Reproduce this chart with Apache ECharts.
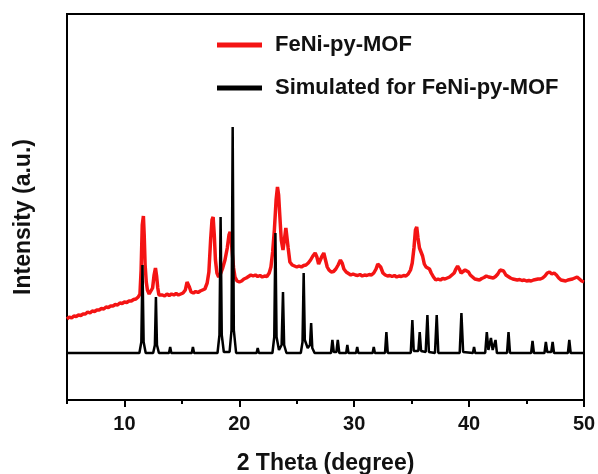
<!DOCTYPE html>
<html>
<head>
<meta charset="utf-8">
<script src="https://cdn.jsdelivr.net/npm/echarts@6/dist/echarts.min.js"></script>
<style>
  html, body { margin: 0; padding: 0; background: #fff; }
  #xrd { width: 598px; height: 474px; }
</style>
</head>
<body>
<div id="xrd"></div>
<script>
// ---------- XRD 图 ----------
var xrdDom = document.getElementById('xrd')
var xrdChart = echarts.init(xrdDom)

var seriesNames = ['FeNi-py-MOF', 'Simulated for FeNi-py-MOF'];
var xTickLabels = [10, 20, 30, 40, 50];
var xMinorTicks = [5, 15, 25, 35, 45];

// 实测 (2θ, 强度)
var measured = [
    [5.0, 81], [5.2, 83], [5.4, 82], [5.6, 84], [5.8, 83.5], [6.0, 85], [6.2, 84.5], [6.4, 86],
    [6.6, 86], [6.8, 88], [7.0, 87], [7.2, 89], [7.4, 88.5], [7.6, 90], [7.8, 90], [8.0, 91.5],
    [8.2, 91], [8.4, 93], [8.6, 92.5], [8.8, 94], [9.0, 94], [9.2, 95.5], [9.4, 95], [9.6, 97],
    [9.8, 96.5], [10.0, 98], [10.2, 97.5], [10.4, 99], [10.6, 99], [10.8, 100.5], [11.0, 101],
    [11.2, 103], [11.35, 106], [11.45, 130], [11.55, 175], [11.65, 184], [11.72, 165], [11.8, 135],
    [11.9, 118], [12.0, 110], [12.15, 106], [12.3, 107], [12.45, 112], [12.58, 125], [12.7, 132],
    [12.8, 124], [12.9, 112], [13.0, 105], [13.15, 103], [13.3, 105], [13.5, 104], [13.7, 106],
    [13.9, 104.5], [14.1, 106], [14.3, 105], [14.5, 106.5], [14.7, 105], [14.9, 106], [15.1, 107],
    [15.3, 110], [15.45, 118], [15.53, 120], [15.65, 113], [15.8, 108], [16.0, 107], [16.2, 108.5],
    [16.4, 107.5], [16.6, 109], [16.8, 110], [17.0, 111], [17.2, 117], [17.35, 128], [17.5, 160],
    [17.62, 180], [17.72, 183], [17.82, 165], [17.92, 140], [18.05, 127], [18.2, 123], [18.35, 126],
    [18.55, 132], [18.75, 140], [18.95, 152], [19.1, 165], [19.2, 168], [19.3, 160], [19.4, 145],
    [19.5, 132], [19.62, 123], [19.8, 119], [20.0, 118], [20.2, 119], [20.4, 121], [20.6, 122],
    [20.8, 123.5], [21.0, 125], [21.2, 124], [21.4, 125], [21.6, 123.5], [21.8, 124.5], [22.0, 123],
    [22.2, 124], [22.4, 123.5], [22.6, 127], [22.75, 133], [22.9, 148], [23.05, 170], [23.2, 200],
    [23.32, 213], [23.42, 205], [23.52, 185], [23.65, 160], [23.8, 150], [23.92, 160], [24.05, 172],
    [24.12, 170], [24.25, 152], [24.4, 138], [24.6, 135], [24.8, 134], [25.0, 133], [25.2, 134],
    [25.4, 133], [25.6, 134.5], [25.8, 135], [26.0, 137], [26.2, 140], [26.4, 144], [26.6, 147],
    [26.75, 143], [26.9, 136], [27.05, 138], [27.2, 144], [27.35, 147], [27.5, 140], [27.65, 133],
    [27.8, 130], [28.0, 128], [28.2, 128.5], [28.4, 131], [28.6, 135], [28.8, 140], [28.95, 137],
    [29.1, 131], [29.3, 128], [29.5, 126.5], [29.7, 125], [29.9, 126], [30.1, 125], [30.3, 124.5],
    [30.5, 125.5], [30.7, 124], [30.9, 125], [31.1, 124.5], [31.3, 125.5], [31.5, 125], [31.7, 127],
    [31.9, 131], [32.05, 136], [32.15, 137], [32.3, 133], [32.5, 127], [32.7, 125], [32.9, 124],
    [33.1, 124.5], [33.3, 123.5], [33.5, 124.5], [33.7, 123], [33.9, 124], [34.1, 123.5], [34.3, 124.5],
    [34.5, 124], [34.7, 126], [34.9, 130], [35.05, 137], [35.2, 152], [35.33, 170], [35.44, 173],
    [35.55, 162], [35.68, 152], [35.8, 150], [35.95, 144], [36.1, 136], [36.25, 133], [36.4, 132],
    [36.55, 131], [36.7, 127], [36.9, 123], [37.1, 120], [37.3, 121], [37.5, 120], [37.7, 121.5],
    [37.9, 121], [38.1, 122], [38.3, 123], [38.5, 125], [38.7, 127], [38.85, 131], [39.0, 134],
    [39.15, 131], [39.3, 127], [39.45, 126], [39.65, 130], [39.8, 131], [39.95, 128], [40.1, 125],
    [40.3, 123], [40.5, 121], [40.7, 120.5], [40.9, 120], [41.1, 121.5], [41.3, 122.5], [41.5, 124],
    [41.7, 123], [41.9, 122.5], [42.1, 122], [42.3, 123.5], [42.5, 126], [42.7, 130], [42.85, 132],
    [43.0, 129], [43.2, 125], [43.4, 123.5], [43.6, 122], [43.8, 121], [44.0, 120.5], [44.2, 120],
    [44.4, 120.5], [44.6, 119.5], [44.8, 120], [45.0, 119], [45.2, 119.5], [45.4, 119], [45.6, 120],
    [45.8, 120.5], [46.0, 121], [46.2, 121], [46.4, 122], [46.6, 124], [46.8, 127], [47.0, 128],
    [47.2, 126], [47.4, 127], [47.6, 125], [47.8, 122], [48.0, 120], [48.2, 119.5], [48.4, 119],
    [48.6, 120], [48.8, 120.5], [49.0, 121], [49.2, 122], [49.4, 123], [49.6, 121], [49.8, 119],
    [50.0, 118]
];

// 模拟 (2θ, 强度)
var simulated = [
    [5.0, 47], [11.3, 47], [11.47, 58], [11.57, 135], [11.67, 58], [11.85, 47],
    [12.5, 47], [12.65, 55], [12.74, 103], [12.83, 55], [13.0, 47],
    [13.88, 47], [13.98, 53], [14.08, 47],
    [15.86, 47], [15.96, 53], [16.06, 47],
    [18.1, 47], [18.27, 65], [18.37, 183], [18.47, 65], [18.65, 48],
    [19.15, 48], [19.32, 70], [19.42, 273], [19.52, 70], [19.72, 47],
    [21.5, 47], [21.6, 52], [21.7, 47],
    [22.88, 47], [23.04, 63], [23.14, 167], [23.24, 63], [23.45, 50],
    [23.68, 55], [23.8, 108], [23.9, 55], [24.1, 47],
    [25.35, 47], [25.5, 58], [25.6, 127], [25.7, 60], [25.95, 52],
    [26.15, 55], [26.25, 77], [26.35, 52], [26.55, 47],
    [27.98, 47], [28.1, 60], [28.22, 48], [28.45, 48], [28.57, 60], [28.7, 47],
    [29.3, 47], [29.4, 55], [29.5, 47],
    [30.16, 47], [30.26, 53], [30.36, 47],
    [31.6, 47], [31.7, 53], [31.8, 47],
    [32.68, 47], [32.8, 68], [32.92, 47],
    [34.92, 47], [35.06, 80], [35.18, 49], [35.58, 49], [35.7, 68], [35.82, 49],
    [36.22, 48], [36.37, 85], [36.5, 48],
    [37.03, 47], [37.18, 85], [37.32, 47],
    [39.18, 47], [39.33, 87], [39.48, 48],
    [40.33, 47], [40.43, 53], [40.53, 47],
    [41.4, 47], [41.54, 68], [41.68, 50], [41.9, 62], [42.05, 50], [42.3, 60], [42.42, 47],
    [43.3, 47], [43.43, 68], [43.56, 47],
    [45.4, 47], [45.52, 59], [45.64, 47],
    [46.56, 47], [46.68, 58], [46.8, 48], [47.15, 48], [47.27, 58], [47.39, 47],
    [48.6, 47], [48.72, 60], [48.84, 47],
    [50.0, 47]
];

var fontFamily = '"Liberation Sans", Arial, sans-serif';

var xrdOption = {
    animation: false,
    backgroundColor: '#fff',
    grid: {
        left: 67,
        right: 14,
        top: 14,
        bottom: 74,
        outerBoundsMode: 'none',
        show: true,
        borderColor: '#000',
        borderWidth: 2
    },
    legend: {
        orient: 'vertical',
        left: 212,
        top: 28,
        itemGap: 19,
        itemWidth: 45,
        itemHeight: 5,
        icon: 'rect',
        data: seriesNames,
        textStyle: {
            color: '#111',
            fontFamily: fontFamily,
            fontWeight: 'bold',
            fontSize: 22,
            lineHeight: 24,
            padding: [0, 0, 0, 8]
        }
    },
    xAxis: [{
        type: 'value',
        min: 5,
        max: 50,
        name: '2 Theta (degree)',
        nameLocation: 'middle',
        nameGap: 52,
        nameTextStyle: {
            color: '#111',
            fontFamily: fontFamily,
            fontWeight: 'bold',
            fontSize: 23
        },
        splitLine: { show: false },
        axisLine: { lineStyle: { color: '#000', width: 2 } },
        axisTick: {
            customValues: xTickLabels,
            length: 7,
            lineStyle: { color: '#000', width: 2 }
        },
        axisLabel: {
            customValues: xTickLabels,
            margin: 14,
            color: '#111',
            fontFamily: fontFamily,
            fontWeight: 'bold',
            fontSize: 20
        }
    }, {
        type: 'value',
        min: 5,
        max: 50,
        position: 'bottom',
        splitLine: { show: false },
        axisLine: { show: false },
        axisLabel: { show: false },
        axisTick: {
            customValues: xMinorTicks,
            length: 4,
            lineStyle: { color: '#000', width: 2 }
        }
    }],
    yAxis: {
        type: 'value',
        min: 0,
        max: 386,
        name: 'Intensity (a.u.)',
        nameLocation: 'middle',
        nameGap: 32,
        nameTextStyle: {
            color: '#111',
            fontFamily: fontFamily,
            fontWeight: 'bold',
            fontSize: 23,
            padding: [0, 20, 0, 0]
        },
        splitLine: { show: false },
        axisLine: { show: true, lineStyle: { color: '#000', width: 2 } },
        axisTick: { show: false },
        axisLabel: { show: false }
    },
    series: [{
        name: seriesNames[0],
        type: 'line',
        data: measured,
        showSymbol: false,
        lineStyle: { color: '#f41414', width: 3.5 },
        itemStyle: { color: '#f41414' }
    }, {
        name: seriesNames[1],
        type: 'line',
        data: simulated,
        showSymbol: false,
        lineStyle: { color: '#000', width: 2.5 },
        itemStyle: { color: '#000' }
    }]
};

xrdChart.setOption(xrdOption);
</script>
</body>
</html>
